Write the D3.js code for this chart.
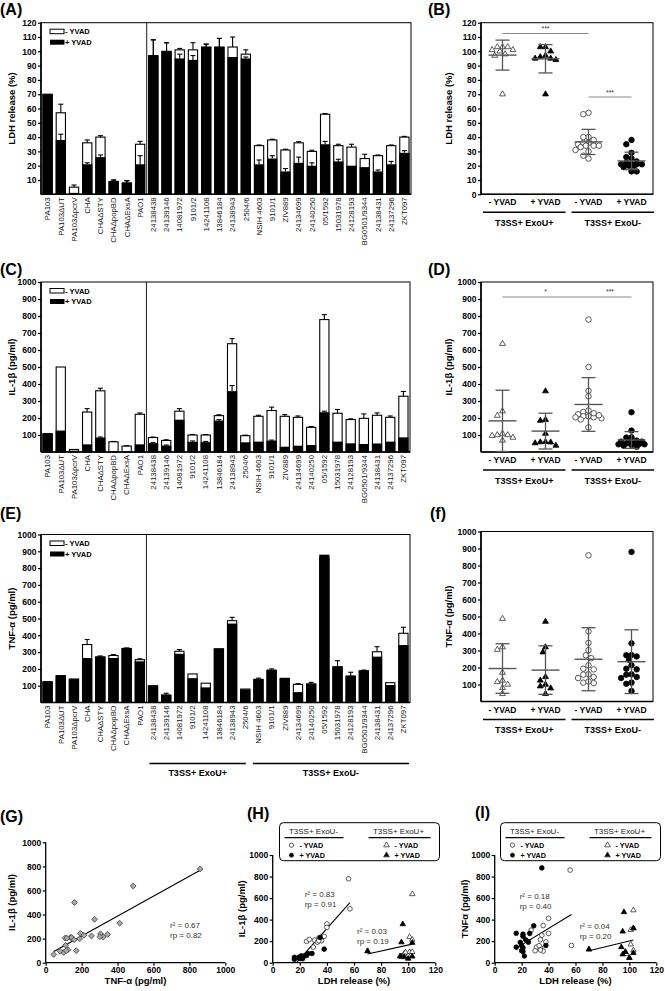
<!DOCTYPE html>
<html><head><meta charset="utf-8">
<script src="https://cdn.jsdelivr.net/npm/d3@7"></script>
<style>
body{margin:0;background:#fff;}
svg{display:block;font-family:"Liberation Sans",Arial,sans-serif;}
</style></head><body>
<svg id="c" width="665" height="991"></svg>
<script>
// ---------------- DATA ----------------
const strains = ["PA103","PA103ΔUT","PA103ΔpcrV","CHA","CHAΔSTY","CHAΔpopBD","CHAΔExsA","PAO1",
  "24138438","24139146","14081972","9101/2","14241108","13846184","24138943","2504/6",
  "NSIH 4603","9101/1","ZIV889","24134699","24140250","05/1592","15031978","24128193","BG0501/9344","24138431","24137296","ZKT097"];

const ldhMinus    = [70,57,5,36,40,9,8,35, 97,100,101,101,103,103,103,98, 34,38,31,36,30,56,34,33,25,27,34,40];
const ldhMinusErr = [0,6,1.5,2,1,1,1.5,2, 11,6,1,5,2,6,7,3, 0.5,0.5,0.5,0.8,0.8,0.5,1,2,3,0.5,0.5,0.5];
const ldhPlus     = [70,38,1,21,26,9,8,21, 97,100,95,94,103,103,96,95, 21,25,16,22,20,35,23,20,19,16,21,29];
const ldhPlusErr  = [0,4,0,1,1.5,1,1.5,6, 11,6,3,3,2,6,0,1, 3,2,2,4,2,2,1.5,0,0,1,2,1.5];

const ilMinus    = [108,500,15,235,360,60,35,222, 85,68,240,100,100,214,637,96, 210,244,210,204,145,779,228,191,198,216,204,328];
const ilMinusErr = [0,0,0,20,15,2,2,8, 3,4,15,3,3,5,30,3, 6,20,10,8,5,29,22,4,26,14,8,28];
const ilPlus     = [108,126,8,45,85,5,3,45, 52,38,190,60,58,185,358,57, 61,67,31,37,41,234,61,51,47,50,61,86];
const ilPlusErr  = [0,0,0,0,3,0,0,0, 3,3,0,5,4,5,33,0, 0,3,0,0,0,6,0,0,0,0,0,0];

const tnfMinus    = [124,160,140,345,272,280,322,255, 100,45,305,170,115,320,487,80, 138,193,144,108,111,860,213,158,189,302,118,412];
const tnfMinusErr = [0,0,0,30,5,5,3,5, 0,10,10,0,0,0,20,0, 7,7,0,4,9,0,36,22,4,30,0,36];
const tnfPlus     = [124,160,140,265,272,265,322,245, 100,45,290,145,90,320,470,78, 138,193,144,62,111,880,213,158,189,273,104,342];
const tnfPlusErr  = [0,0,0,0,0,0,0,0, 0,0,0,0,0,0,0,0, 0,0,0,0,0,0,0,0,0,0,0,0];

const exoUPos = [0,8,9,10,11,12,13,14,15];
const exoUNeg = [1,3,4,7,16,17,18,19,20,21,22,23,24,25,26,27];

const ticksLDH = d3.range(10,121,10);
const ticksLDH0 = d3.range(0,121,10);
const ticksCyt = d3.range(100,1001,100);
const ticksScat = d3.range(0,1001,200);
const ticksLDHx = d3.range(0,121,20);

const catLabels = ["- YVAD","+ YVAD","- YVAD","+ YVAD"];
const groupLabels = ["T3SS+ ExoU+","T3SS+ ExoU-"];
const sigB = [{a:0,b:2,v:112.5,t:"***"},{a:2,b:3,v:68,t:"***"}];
const sigD = [{a:0,b:2,v:912,t:"*"},{a:2,b:3,v:912,t:"***"}];

// ---------------- HELPERS ----------------
const svg = d3.select("#c");
const FONT = '"Liberation Sans", Arial, sans-serif';
const pick = (arr, idx) => idx.map(i => arr[i]);

function txt(g, x, y, s, o = {}) {
  return g.append("text").attr("x", x).attr("y", y).text(s)
    .attr("font-family", FONT).attr("font-size", o.fs || 8)
    .attr("font-weight", o.fw || "normal").attr("fill", o.fill || "#000")
    .attr("text-anchor", o.anchor || "start");
}
function vtitle(g, cx, cy, s, fs) {
  g.append("text").attr("transform", `translate(${cx + fs * 0.36},${cy}) rotate(-90)`)
    .attr("text-anchor", "middle").attr("font-family", FONT).attr("font-size", fs)
    .attr("font-weight", "bold").text(s);
}
function yAxis(g, y, ticks, x0, fs) {
  const ax = g.append("g").attr("transform", `translate(${x0},0)`)
    .call(d3.axisLeft(y).tickValues(ticks).tickSize(3).tickPadding(1.5).tickFormat(d3.format("d")));
  ax.select(".domain").remove();
  ax.selectAll("text").attr("font-size", fs || 8.5).attr("font-weight", "bold").attr("font-family", FONT).attr("fill", "#000");
  ax.selectAll("line").attr("stroke", "#000").attr("stroke-width", 1.2);
}
function panelLabel(x, y, s) { txt(svg, x, y, s, {fs: 16, fw: "bold"}); }

// ---------------- BAR PANELS ----------------
function barPanel(o) {
  const g = svg.append("g");
  const x = d3.scaleBand().domain(strains).range([o.x0, o.x1]).paddingInner(0.3).paddingOuter(0.15);
  const y = d3.scaleLinear().domain([0, o.max]).range([o.yB, o.yT]);
  const gap = x.step() - x.bandwidth();
  const bnd = i => x(strains[i]) - gap / 2;
  g.append("rect").attr("x", o.x0).attr("y", o.yT).attr("width", o.x1 - o.x0).attr("height", o.yB - o.yT)
    .attr("fill", "none").attr("stroke", "#000").attr("stroke-width", 1);
  g.append("line").attr("x1", bnd(8)).attr("x2", bnd(8)).attr("y1", o.yT).attr("y2", o.yB).attr("stroke", "#000").attr("stroke-width", 0.9);
  g.selectAll(null).data(strains).join("rect")
    .attr("x", d => x(d)).attr("width", x.bandwidth())
    .attr("y", (d, i) => y(o.minus[i])).attr("height", (d, i) => y(0) - y(o.minus[i]))
    .attr("fill", "#fff").attr("stroke", "#000").attr("stroke-width", 1.1);
  g.selectAll(null).data(strains).join("rect")
    .attr("x", d => x(d) - 0.5).attr("width", x.bandwidth() + 1)
    .attr("y", (d, i) => y(o.plus[i])).attr("height", (d, i) => y(0) - y(o.plus[i]))
    .attr("fill", "#000");
  function err(vals, errs) {
    strains.forEach((d, i) => {
      if (!errs[i]) return;
      const cx = x(d) + x.bandwidth() / 2, y0 = y(vals[i]), y1 = y(vals[i] + errs[i]);
      g.append("line").attr("x1", cx).attr("x2", cx).attr("y1", y0).attr("y2", y1).attr("stroke", "#000").attr("stroke-width", 1.1);
      g.append("line").attr("x1", cx - 2.5).attr("x2", cx + 2.5).attr("y1", y1).attr("y2", y1).attr("stroke", "#000").attr("stroke-width", 1.1);
    });
  }
  err(o.minus, o.minusErr);
  err(o.plus, o.plusErr);
  g.append("line").attr("x1", o.x0).attr("x2", o.x0).attr("y1", o.yT).attr("y2", o.yB).attr("stroke", "#000").attr("stroke-width", 1.6);
  g.append("line").attr("x1", o.x0).attr("x2", o.x1).attr("y1", o.yB).attr("y2", o.yB).attr("stroke", "#000").attr("stroke-width", 1.6);
  yAxis(g, y, o.ticks, o.x0, 8.5);
  strains.forEach(d => {
    const cx = x(d) + x.bandwidth() / 2;
    g.append("text").attr("transform", `translate(${cx},${o.yB + 3})rotate(-90)`)
      .attr("text-anchor", "end").attr("dy", "0.35em").attr("font-family", FONT).attr("font-size", 7.8)
      .attr("fill", "#111").text(d);
  });
  const lx = o.x0 + 9, ly = o.yT + 6.5;
  g.append("rect").attr("x", lx).attr("y", ly).attr("width", 14).attr("height", 4.5).attr("fill", "#fff").attr("stroke", "#000").attr("stroke-width", 1);
  txt(g, lx + 15, ly + 5, "- YVAD", {fs: 7.5, fw: "bold"});
  g.append("rect").attr("x", lx).attr("y", ly + 10.5).attr("width", 14.5).attr("height", 5).attr("fill", "#000");
  txt(g, lx + 15, ly + 15.5, "+ YVAD", {fs: 7.5, fw: "bold"});
  vtitle(g, 12, (o.yT + o.yB) / 2, o.title, 9.5);
  if (o.groupLines) {
    const ly2 = o.groupLines;
    const segs = [[bnd(8) + 3, bnd(16) - 6], [bnd(16) + 1, o.x1 - 1]];
    segs.forEach((s, k) => {
      g.append("line").attr("x1", s[0]).attr("x2", s[1]).attr("y1", ly2).attr("y2", ly2).attr("stroke", "#000").attr("stroke-width", 1.5);
      txt(g, (s[0] + s[1]) / 2, ly2 + 12.5, groupLabels[k], {fs: 9, fw: "bold", anchor: "middle"});
    });
  }
}

// ---------------- DOT PANELS ----------------
function swarm(vals, y, d, step, maxOff) {
  const order = d3.range(vals.length).sort((a, b) => vals[b] - vals[a]);
  const off = new Array(vals.length); const placed = [];
  const cands = [0];
  for (let m = 1; m * step <= maxOff; m++) { cands.push(-m * step, m * step); }
  for (const i of order) {
    const py = y(vals[i]);
    let best = 0, bestD = -1;
    for (const dx of cands) {
      const md = placed.length ? d3.min(placed, p => Math.hypot(p.x - dx, p.y - py)) : 1e9;
      if (md >= d) { best = dx; bestD = md; break; }
      if (md > bestD) { bestD = md; best = dx; }
    }
    off[i] = best; placed.push({x: best, y: py});
  }
  return off;
}
function dotPanel(o) {
  const g = svg.append("g");
  const x = d3.scaleBand().domain([0, 1, 2, 3]).range([o.x0, o.x1]);
  const y = d3.scaleLinear().domain([0, o.max]).range([o.yB, o.yT]);
  const cx = i => x(i) + x.bandwidth() / 2;
  g.append("rect").attr("x", o.x0).attr("y", o.yT).attr("width", o.x1 - o.x0).attr("height", o.yB - o.yT)
    .attr("fill", "none").attr("stroke", "#000").attr("stroke-width", 1);
  g.append("line").attr("x1", o.x0).attr("x2", o.x0).attr("y1", o.yT).attr("y2", o.yB).attr("stroke", "#000").attr("stroke-width", 1.6);
  g.append("line").attr("x1", o.x0).attr("x2", o.x1).attr("y1", o.yB).attr("y2", o.yB).attr("stroke", "#000").attr("stroke-width", 1.6);
  yAxis(g, y, o.ticks, o.x0, 8.5);
  (o.sig || []).forEach(s => {
    const yy = y(s.v);
    g.append("line").attr("x1", cx(s.a)).attr("x2", cx(s.b)).attr("y1", yy).attr("y2", yy).attr("stroke", "#888").attr("stroke-width", 1.1);
    txt(g, (cx(s.a) + cx(s.b)) / 2, yy - 2.5, s.t, {fs: 7, anchor: "middle", fill: "#333"});
  });
  o.groups.forEach((gr, k) => {
    const c = cx(k);
    const off = swarm(gr.vals, y, 5.2, 2.6, 15);
    const sym = d3.symbol().type(gr.type === "tri" ? d3.symbolTriangle : d3.symbolCircle).size(gr.type === "tri" ? 15 : 24);
    gr.vals.forEach((v, i) => {
      g.append("path").attr("d", sym()).attr("transform", `translate(${c + off[i]},${y(v)})`)
        .attr("fill", gr.filled ? "#000" : "#fff").attr("stroke", gr.filled ? "#000" : "#333").attr("stroke-width", 0.8);
    });
    const m = d3.mean(gr.vals), sd = d3.deviation(gr.vals);
    const col = "#555";
    g.append("line").attr("x1", c - 14).attr("x2", c + 14).attr("y1", y(m)).attr("y2", y(m)).attr("stroke", col).attr("stroke-width", 1.4);
    g.append("line").attr("x1", c).attr("x2", c).attr("y1", y(Math.max(0, m - sd))).attr("y2", y(m + sd)).attr("stroke", col).attr("stroke-width", 1.3);
    [m - sd, m + sd].forEach(v => { if (v > 0) g.append("line").attr("x1", c - 7).attr("x2", c + 7).attr("y1", y(v)).attr("y2", y(v)).attr("stroke", col).attr("stroke-width", 1.3); });
    txt(g, c, o.yB + 11, catLabels[k], {fs: 8.5, fw: "bold", anchor: "middle"});
  });
  const ly = o.yB + 18;
  [[o.x0 + 2, cx(1) + 20], [cx(2) - 17, o.x1 + 1]].forEach((s, k) => {
    g.append("line").attr("x1", s[0]).attr("x2", s[1]).attr("y1", ly).attr("y2", ly).attr("stroke", "#000").attr("stroke-width", 1.5);
    txt(g, (s[0] + s[1]) / 2, ly + 13.5, groupLabels[k], {fs: 9, fw: "bold", anchor: "middle"});
  });
  vtitle(g, 449, (o.yT + o.yB) / 2, o.title, 9.5);
}

// ---------------- SCATTER PANELS ----------------
function linreg(pts) {
  const mx = d3.mean(pts, p => p[0]), my = d3.mean(pts, p => p[1]);
  const b = d3.sum(pts, p => (p[0] - mx) * (p[1] - my)) / d3.sum(pts, p => (p[0] - mx) ** 2);
  return {a: my - b * mx, b};
}
function scatter(o) {
  const g = svg.append("g");
  const x = d3.scaleLinear().domain([0, o.xmax]).range([o.x0, o.x1]);
  const y = d3.scaleLinear().domain([0, 1000]).range([o.yB, o.yT]);
  g.append("line").attr("x1", o.x0).attr("x2", o.x0).attr("y1", o.yT).attr("y2", o.yB).attr("stroke", "#000").attr("stroke-width", 1.3);
  g.append("line").attr("x1", o.x0).attr("x2", o.x1).attr("y1", o.yB).attr("y2", o.yB).attr("stroke", "#000").attr("stroke-width", 1.3);
  yAxis(g, y, ticksScat, o.x0, 8.5);
  const ax = g.append("g").attr("transform", `translate(0,${o.yB})`)
    .call(d3.axisBottom(x).tickValues(o.xticks).tickSize(3).tickPadding(1.5).tickFormat(d3.format("d")));
  ax.select(".domain").remove();
  ax.selectAll("text").attr("font-size", 8.5).attr("font-weight", "bold").attr("font-family", FONT).attr("fill", "#000");
  ax.selectAll("line").attr("stroke", "#000").attr("stroke-width", 1.2);
  o.fits.forEach(pts => {
    const r = linreg(pts);
    let xa = d3.min(pts, p => p[0]), xb = d3.max(pts, p => p[0]);
    if (r.a + r.b * xa < 0 && r.b > 0) xa = -r.a / r.b;
    g.append("line").attr("x1", x(xa)).attr("x2", x(xb)).attr("y1", y(r.a + r.b * xa)).attr("y2", y(r.a + r.b * xb))
      .attr("stroke", "#000").attr("stroke-width", 1.1);
  });
  o.sets.forEach(s => {
    const sym = d3.symbol().type(s.type).size(s.size);
    s.pts.forEach(p => {
      g.append("path").attr("d", sym()).attr("transform", `translate(${x(p[0])},${y(p[1])})` + (s.rot ? ` rotate(${s.rot})` : ""))
        .attr("fill", s.fill).attr("stroke", s.stroke).attr("stroke-width", 0.8);
    });
  });
  o.notes.forEach(n => {
    txt(g, n[0], n[1], n[2], {fs: 8, fill: "#333"});
    txt(g, n[0], n[1] + 10, n[3], {fs: 8, fill: "#333"});
  });
  txt(g, (o.x0 + o.x1) / 2, o.yB + 21, o.xtitle, {fs: 9.5, fw: "bold", anchor: "middle"});
  vtitle(g, o.ytx, (o.yT + o.yB) / 2, o.ytitle, 9.5);
  if (o.legend) {
    const L = o.legend[0], T = o.legend[1], W = 160, H = 38;
    g.append("rect").attr("x", L).attr("y", T).attr("width", W).attr("height", H).attr("rx", 4)
      .attr("fill", "#fff").attr("stroke", "#000").attr("stroke-width", 1);
    txt(g, L + 34, T + 11, groupLabels[1], {fs: 8, anchor: "middle", fill: "#222"});
    txt(g, L + 119, T + 11, groupLabels[0], {fs: 8, anchor: "middle", fill: "#222"});
    g.append("line").attr("x1", L + 5).attr("x2", L + 64).attr("y1", T + 15).attr("y2", T + 15).attr("stroke", "#000").attr("stroke-width", 1.2);
    g.append("line").attr("x1", L + 89).attr("x2", L + 151).attr("y1", T + 15).attr("y2", T + 15).attr("stroke", "#000").attr("stroke-width", 1.2);
    const items = [
      [L + 12, T + 22.5, d3.symbolCircle, "#fff", "- YVAD"],
      [L + 12, T + 32.5, d3.symbolCircle, "#000", "+ YVAD"],
      [L + 107, T + 22.5, d3.symbolTriangle, "#fff", "- YVAD"],
      [L + 107, T + 32.5, d3.symbolTriangle, "#000", "+ YVAD"]];
    items.forEach(it => {
      g.append("path").attr("d", d3.symbol().type(it[2]).size(14)()).attr("transform", `translate(${it[0]},${it[1]})`)
        .attr("fill", it[3]).attr("stroke", "#333").attr("stroke-width", 0.8);
      txt(g, it[0] + 8, it[1] + 2.7, it[4], {fs: 7.2, fw: "bold"});
    });
  }
}

// ---------------- DRAW ----------------
panelLabel(0, 15, "(A)"); panelLabel(428, 15, "(B)");
panelLabel(0, 275, "(C)"); panelLabel(428, 275, "(D)");
panelLabel(0, 519, "(E)"); panelLabel(430, 519, "(f)");
panelLabel(0, 822, "(G)"); panelLabel(247, 819, "(H)"); panelLabel(475, 818, "(I)");

barPanel({x0: 41, x1: 411, yT: 22.7, yB: 194.3, max: 120, ticks: ticksLDH, title: "LDH release (%)",
  minus: ldhMinus, minusErr: ldhMinusErr, plus: ldhPlus, plusErr: ldhPlusErr});
barPanel({x0: 41, x1: 410, yT: 282, yB: 452, max: 1000, ticks: ticksCyt, title: "IL-1β  (pg/ml)",
  minus: ilMinus, minusErr: ilMinusErr, plus: ilPlus, plusErr: ilPlusErr});
barPanel({x0: 41, x1: 410, yT: 534.5, yB: 702.5, max: 1000, ticks: ticksCyt, title: "TNF-α  (pg/ml)",
  minus: tnfMinus, minusErr: tnfMinusErr, plus: tnfPlus, plusErr: tnfPlusErr, groupLines: 763.5});

function dotGroups(minus, plus) {
  return [
    {vals: pick(minus, exoUPos), type: "tri", filled: false},
    {vals: pick(plus, exoUPos), type: "tri", filled: true},
    {vals: pick(minus, exoUNeg), type: "circ", filled: false},
    {vals: pick(plus, exoUNeg), type: "circ", filled: true}];
}
dotPanel({x0: 481, x1: 653, yT: 22.7, yB: 194.3, max: 120, ticks: ticksLDH0, title: "LDH release (%)",
  groups: dotGroups(ldhMinus, ldhPlus), sig: sigB});
dotPanel({x0: 481, x1: 653, yT: 282, yB: 452, max: 1000, ticks: ticksCyt, title: "IL-1β  (pg/ml)",
  groups: dotGroups(ilMinus, ilPlus), sig: sigD});
dotPanel({x0: 481, x1: 653, yT: 531.5, yB: 701.5, max: 1000, ticks: ticksCyt, title: "TNF-α  (pg/ml)",
  groups: dotGroups(tnfMinus, tnfPlus), sig: []});

const t3ss = d3.range(strains.length).filter(i => ![2, 5, 6].includes(i));
const gPts = t3ss.map(i => [tnfMinus[i], ilMinus[i]]);
scatter({x0: 45.7, x1: 225.3, yT: 842.3, yB: 962.7, xmax: 1000, xticks: ticksScat,
  xtitle: "TNF-α (pg/ml)", ytitle: "IL-1β (pg/ml)", ytx: 12,
  fits: [gPts], sets: [{pts: gPts, type: d3.symbolSquare, size: 17, rot: 45, fill: "#a8a8a8", stroke: "#444"}],
  notes: [[170, 928, "r² = 0.67", "rp = 0.82"]]});

function hSets(cyMinus, cyPlus) {
  const negM = exoUNeg.map(i => [ldhMinus[i], cyMinus[i]]), negP = exoUNeg.map(i => [ldhPlus[i], cyPlus[i]]);
  const posM = exoUPos.map(i => [ldhMinus[i], cyMinus[i]]), posP = exoUPos.map(i => [ldhPlus[i], cyPlus[i]]);
  return {
    fits: [negM.concat(negP), posM.concat(posP)],
    sets: [
      {pts: negM, type: d3.symbolCircle, size: 17, fill: "#fff", stroke: "#333"},
      {pts: negP, type: d3.symbolCircle, size: 17, fill: "#000", stroke: "#000"},
      {pts: posM, type: d3.symbolTriangle, size: 13, fill: "#fff", stroke: "#333"},
      {pts: posP, type: d3.symbolTriangle, size: 13, fill: "#000", stroke: "#000"}]};
}
const hs = hSets(ilMinus, ilPlus);
scatter({x0: 272.7, x1: 435.3, yT: 855, yB: 962.7, xmax: 120, xticks: ticksLDHx,
  xtitle: "LDH release (%)", ytitle: "IL-1β (pg/ml)", ytx: 242,
  fits: hs.fits, sets: hs.sets, legend: [279.5, 822.7],
  notes: [[304.7, 897, "r² = 0.83", "rp = 0.91"], [357, 934, "r² = 0.03", "rp = 0.19"]]});
const is = hSets(tnfMinus, tnfPlus);
scatter({x0: 494.7, x1: 656.3, yT: 855, yB: 962.7, xmax: 120, xticks: ticksLDHx,
  xtitle: "LDH release (%)", ytitle: "TNFα (pg/ml)", ytx: 465,
  fits: is.fits, sets: is.sets, legend: [500.5, 822.7],
  notes: [[519.7, 899, "r² = 0.18", "rp = 0.40"], [579.7, 929, "r² = 0.04", "rp = 0.20"]]});
</script>
</body></html>
